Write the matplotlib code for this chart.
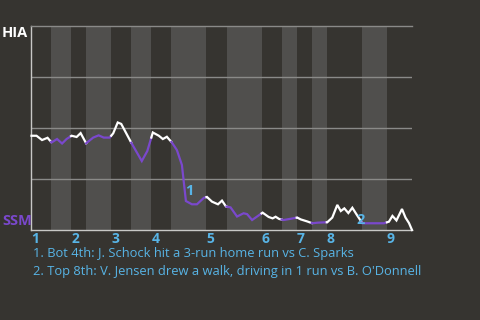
import numpy as np
import matplotlib
matplotlib.use("Agg")
import matplotlib.pyplot as plt

# Half-inning boundaries, in plate appearances (top halves first)
half_bounds = [0, 4, 8, 11, 16, 20, 24, 28, 35, 39, 46, 50, 53, 56, 59, 66, 71, 76]
inning_labels = ["1", "2", "3", "4", "5", "6", "7", "8", "9"]

# HIA win probability (%) through the game
game_step = [0.1, 1.1, 2.2, 3.3, 4.1, 5.2, 6.2, 7.1, 8.1, 9.1, 9.9, 11.0, 12.4, 13.5,
             14.5, 15.7, 16.4, 17.3, 18.0, 20.0, 22.1, 23.2, 24.3, 25.5, 26.3, 27.1,
             28.1, 29.1, 29.5, 30.1, 30.9, 32.1, 33.1, 34.5, 35.1, 36.1, 37.3, 38.1,
             38.9, 39.8, 41.1, 42.4, 43.1, 44.1, 46.2, 47.4, 48.2, 48.8, 49.5, 50.4,
             51.8, 53.1, 53.8, 55.1, 56.1, 57.2, 59.1, 60.1, 61.1, 61.8, 62.5, 63.3,
             64.1, 65.0, 66.1, 70.4, 71.4, 72.1, 72.9, 74.0, 74.7, 75.4, 76.0]
hia_win_pct = [46.2, 46.2, 44.1, 45.2, 42.9, 44.6, 42.4, 44.6, 46.2, 45.6, 47.5, 42.5, 45.3, 46.4,
               45.3, 45.3, 47.4, 52.7, 52.0, 42.8, 33.8, 38.7, 47.8, 46.2, 44.6, 45.7,
               42.9, 39.2, 36.3, 31.9, 14.2, 12.6, 12.6, 15.8, 16.2, 13.9, 12.6, 14.4,
               11.5, 11.1, 6.6, 8.2, 7.8, 4.9, 8.5, 6.4, 5.7, 6.5, 5.4, 4.9,
               5.5, 6.1, 5.2, 4.2, 3.3, 3.6, 3.8, 6.1, 12.3, 9.3, 10.6, 8.3,
               10.9, 7.4, 3.3, 3.3, 4.1, 6.9, 4.7, 10.3, 6.1, 3.4, 0.0]

# Key plays
play_x = [31.6, 65.7]
play_y = [19.1, 4.9]
play_notes = [
    "1. Bot 4th: J. Schock hit a 3-run home run vs C. Sparks",
    "2. Top 8th: V. Jensen drew a walk, driving in 1 run vs B. O'Donnell",
]

BG = "#363430"
BAND = "#504f4d"
GRID = "#8a8a88"
AXIS = "#c8c8c6"
PURPLE = "#7a48cc"
BLUE = "#58b4e6"
FONT = "Open Sans"

W, H = 480, 320
fig = plt.figure(figsize=(W / 100, H / 100), dpi=100, facecolor=BG)
ax = fig.add_axes([31 / W, 90 / H, 381 / W, 204 / H])
ax.set_facecolor(BG)
ax.set_xlim(half_bounds[0], half_bounds[-1])
ax.set_ylim(0, 100)

# Shade the bottom halves of each inning
for i in range(1, len(half_bounds) - 1, 2):
    ax.axvspan(half_bounds[i], half_bounds[i + 1], color=BAND, lw=0, zorder=0)

for yv in (25, 50, 75):
    ax.axhline(yv, color=GRID, lw=1.0, zorder=1)

ax.spines["right"].set_visible(False)
ax.spines["top"].set_color(GRID)
ax.spines["top"].set_linewidth(1.0)
ax.spines["left"].set_color(AXIS)
ax.spines["left"].set_linewidth(1.0)
ax.spines["bottom"].set_color(AXIS)
ax.spines["bottom"].set_linewidth(1.0)

# Win-probability line, white during top halves and purple during bottom halves
xs = np.array(game_step)
ys = np.array(hia_win_pct)
for i in range(len(half_bounds) - 1):
    a, b = half_bounds[i], half_bounds[i + 1]
    inside = (xs > a) & (xs < b)
    seg_x = np.concatenate(([a], xs[inside], [b]))
    seg_y = np.concatenate(([np.interp(a, xs, ys)], ys[inside], [np.interp(b, xs, ys)]))
    keep = (seg_x >= xs[0]) & (seg_x <= xs[-1])
    seg_x, seg_y = seg_x[keep], seg_y[keep]
    if a < xs[0]:
        seg_x = np.concatenate(([xs[0]], seg_x))
        seg_y = np.concatenate(([ys[0]], seg_y))
    ax.plot(seg_x, seg_y, color="white" if i % 2 == 0 else PURPLE, lw=1.6,
            solid_joinstyle="miter", zorder=3, clip_on=False)

for k, (px, py) in enumerate(zip(play_x, play_y)):
    ax.text(px, py, str(k + 1), color=BLUE, fontsize=10.5, fontweight="bold",
            family=FONT, ha="center", va="center", zorder=4)

ax.set_yticks([])
ax.set_xticks(half_bounds[0:-1:2])
ax.set_xticklabels(inning_labels)
ax.tick_params(axis="x", length=0, pad=1.5, colors=BLUE)
for lab in ax.get_xticklabels():
    lab.set_ha("left")
    lab.set_fontweight("bold")
    lab.set_fontsize(10)
    lab.set_family(FONT)

fig.text(2 / W, 1 - 33 / H, "HIA", color="white", fontsize=10.5, fontweight="bold",
         family=FONT, ha="left", va="center")
fig.text(2 / W, 1 - 221 / H, "SSM", color=PURPLE, fontsize=10.5, fontweight="bold",
         family=FONT, ha="left", va="center")

for k, note in enumerate(play_notes):
    fig.text(33 / W, 1 - (254 + 17.7 * k) / H, note, color=BLUE, fontsize=9.3,
             family=FONT, ha="left", va="center")

fig.savefig("out.png", dpi=100, facecolor=BG)
